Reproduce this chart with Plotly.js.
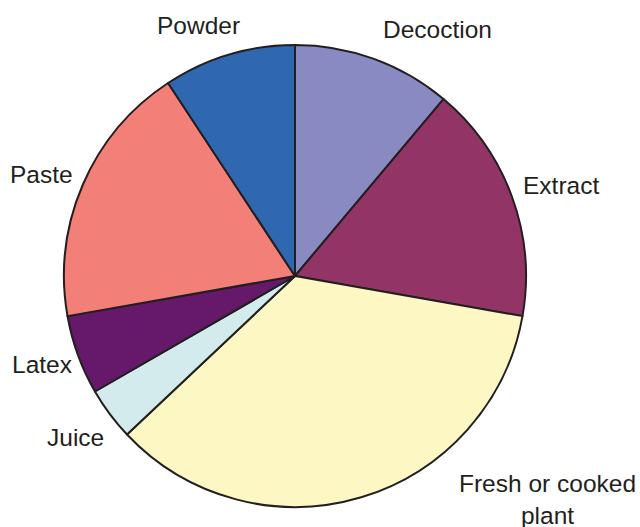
<!DOCTYPE html>
<html><head><meta charset="utf-8">
<script src="https://cdn.plot.ly/plotly-3.0.1.min.js"></script>
<style>html,body{margin:0;padding:0;background:#fff}#c{width:640px;height:527px}</style>
</head><body><div id="c"></div>
<script>
const categories = ["Decoction","Extract","Fresh or cooked plant","Juice","Latex","Paste","Powder"];
const values = [12, 18, 38, 4, 6, 20, 10];
const colors = ["#8a8ac3","#923466","#fdf7c4","#d3ebec","#66196b","#f27f78","#2f68b0"];
const labelText = ["Decoction","Extract","Fresh or cooked<br>plant","Juice","Latex","Paste","Powder"];
const labelPos = [[437,30],[561,185],[547,499],[75,437],[42,364],[41,174],[198,25]];

const W = 640, H = 527;
const annotations = labelText.map((t,i)=>({
  text: t, xref:'paper', yref:'paper', x: labelPos[i][0]/W, y: 1-labelPos[i][1]/H,
  xanchor:'center', yanchor:'middle', showarrow:false,
  font:{family:'Liberation Sans, Arial, sans-serif', size:24.5, color:'#231f20'}
}));

Plotly.newPlot('c', [{
  type:'pie', labels: categories, values: values, sort:false, direction:'clockwise', rotation:0,
  marker:{colors: colors, line:{color:'#231f20', width:2}},
  textinfo:'none', hoverinfo:'label+value',
  domain:{x:[(295-231)/W,(295+231)/W], y:[(251-231)/H,(251+231)/H]}
}], {
  width:W, height:H, margin:{l:0,r:0,t:0,b:0}, showlegend:false,
  paper_bgcolor:'#fff', annotations: annotations
}, {displayModeBar:false, staticPlot:true});
</script></body></html>
